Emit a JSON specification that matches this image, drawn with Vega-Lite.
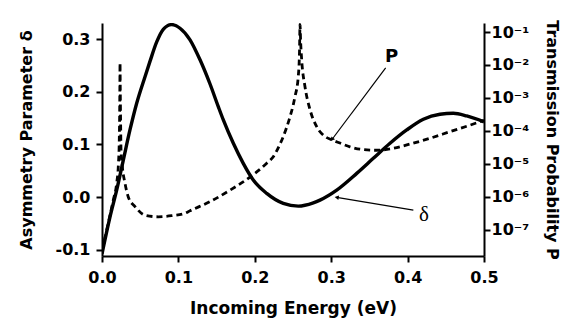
{
  "$schema": "https://vega.github.io/schema/vega-lite/v6.json",
  "width": 382,
  "height": 233,
  "autosize": "none",
  "padding": {"left": 102, "top": 23, "right": 90, "bottom": 69},
  "background": "white",
  "config": {
    "view": {"stroke": null},
    "axis": {
      "grid": false,
      "domainColor": "black", "domainWidth": 2,
      "tickColor": "black", "tickWidth": 2, "tickSize": 6,
      "labelFont": "DejaVu Sans", "labelFontWeight": "bold", "labelFontSize": 16, "labelColor": "black",
      "titleFont": "DejaVu Sans", "titleFontWeight": "bold", "titleFontSize": 16, "titleColor": "black",
      "labelOverlap": false, "labelFlush": false, "labelBound": false
    },
    "axisX": {"labelPadding": 7, "titlePadding": 15, "titleFontSize": 17},
    "axisLeft": {"labelPadding": 6, "titlePadding": 21},
    "axisRight": {"labelPadding": 1, "titlePadding": 15}
  },
  "datasets": {
    "delta": [
      {"energy": 0.0, "delta": -0.108},
      {"energy": 0.0105, "delta": -0.0375},
      {"energy": 0.0192, "delta": 0.0133},
      {"energy": 0.0279, "delta": 0.0705},
      {"energy": 0.0366, "delta": 0.1276},
      {"energy": 0.0454, "delta": 0.1785},
      {"energy": 0.0563, "delta": 0.229},
      {"energy": 0.0628, "delta": 0.258},
      {"energy": 0.0716, "delta": 0.295},
      {"energy": 0.0802, "delta": 0.319},
      {"energy": 0.0912, "delta": 0.328},
      {"energy": 0.1021, "delta": 0.321},
      {"energy": 0.1152, "delta": 0.299},
      {"energy": 0.1283, "delta": 0.261},
      {"energy": 0.1414, "delta": 0.215},
      {"energy": 0.1522, "delta": 0.172},
      {"energy": 0.1588, "delta": 0.1467},
      {"energy": 0.1719, "delta": 0.1023},
      {"energy": 0.1849, "delta": 0.0642},
      {"energy": 0.198, "delta": 0.0324},
      {"energy": 0.2156, "delta": 0.007},
      {"energy": 0.2373, "delta": -0.012},
      {"energy": 0.2569, "delta": -0.0171},
      {"energy": 0.2766, "delta": -0.0109},
      {"energy": 0.2853, "delta": -0.0057},
      {"energy": 0.3072, "delta": 0.0133},
      {"energy": 0.3334, "delta": 0.0451},
      {"energy": 0.3551, "delta": 0.0737},
      {"energy": 0.377, "delta": 0.1023},
      {"energy": 0.3988, "delta": 0.1276},
      {"energy": 0.4206, "delta": 0.148},
      {"energy": 0.4424, "delta": 0.1575},
      {"energy": 0.4598, "delta": 0.1594},
      {"energy": 0.4774, "delta": 0.1543},
      {"energy": 0.5, "delta": 0.143}
    ],
    "prob": [
      {"energy": 0.0, "P": 2.5e-8},
      {"energy": 0.0082, "P": 1.6e-7},
      {"energy": 0.0148, "P": 8.1e-7},
      {"energy": 0.0192, "P": 2.6e-6},
      {"energy": 0.0215, "P": 1.0e-5},
      {"energy": 0.0226, "P": 5.0e-5},
      {"energy": 0.0231, "P": 3.2e-4},
      {"energy": 0.0234, "P": 2.5e-3},
      {"energy": 0.0236, "P": 1.15e-2},
      {"energy": 0.0239, "P": 2.0e-3},
      {"energy": 0.0243, "P": 2.5e-4},
      {"energy": 0.0249, "P": 2.6e-5},
      {"energy": 0.0266, "P": 8.3e-6},
      {"energy": 0.0301, "P": 2.6e-6},
      {"energy": 0.0344, "P": 1.0e-6},
      {"energy": 0.0432, "P": 5.1e-7},
      {"energy": 0.0563, "P": 2.8e-7},
      {"energy": 0.0737, "P": 2.5e-7},
      {"energy": 0.0912, "P": 2.7e-7},
      {"energy": 0.1086, "P": 3.2e-7},
      {"energy": 0.1152, "P": 3.8e-7},
      {"energy": 0.1414, "P": 7.2e-7},
      {"energy": 0.1675, "P": 1.6e-6},
      {"energy": 0.1937, "P": 4.0e-6},
      {"energy": 0.2156, "P": 1.05e-5},
      {"energy": 0.2242, "P": 1.66e-5},
      {"energy": 0.233, "P": 4.0e-5},
      {"energy": 0.2373, "P": 6.8e-5},
      {"energy": 0.2461, "P": 2.7e-4},
      {"energy": 0.2504, "P": 6.3e-4},
      {"energy": 0.2526, "P": 1.1e-3},
      {"energy": 0.2569, "P": 4.5e-3},
      {"energy": 0.2585, "P": 2.5e-2},
      {"energy": 0.2592, "P": 0.17},
      {"energy": 0.26, "P": 0.05},
      {"energy": 0.2614, "P": 1.4e-2},
      {"energy": 0.2657, "P": 2.2e-3},
      {"energy": 0.2723, "P": 4.4e-4},
      {"energy": 0.281, "P": 1.35e-4},
      {"energy": 0.2919, "P": 6.8e-5},
      {"energy": 0.3007, "P": 5.4e-5},
      {"energy": 0.3115, "P": 4.3e-5},
      {"energy": 0.3246, "P": 3.3e-5},
      {"energy": 0.3377, "P": 2.8e-5},
      {"energy": 0.3596, "P": 2.6e-5},
      {"energy": 0.3813, "P": 3.0e-5},
      {"energy": 0.4031, "P": 4.0e-5},
      {"energy": 0.4293, "P": 6.0e-5},
      {"energy": 0.4555, "P": 9.5e-5},
      {"energy": 0.4817, "P": 1.5e-4},
      {"energy": 0.5, "P": 2.1e-4}
    ],
    "arrows": [
      {"energy": 0.3713, "delta": 0.2457, "energy2": 0.301, "delta2": 0.1095},
      {"energy": 0.4075, "delta": -0.0248, "energy2": 0.3072, "delta2": -0.0006}
    ],
    "tipP": [{"energy": 0.301, "delta": 0.1095}],
    "tipD": [{"energy": 0.3072, "delta": -0.0006}],
    "labelP": [{"energy": 0.3792, "delta": 0.2672, "label": "P"}],
    "labelD": [{"energy": 0.4215, "delta": -0.0343, "label": "δ"}]
  },
  "encoding": {
    "x": {
      "field": "energy", "type": "quantitative",
      "scale": {"domain": [0, 0.5], "nice": false, "zero": false},
      "axis": {"title": "Incoming Energy (eV)", "values": [0, 0.1, 0.2, 0.3, 0.4, 0.5], "format": ".1f"}
    }
  },
  "layer": [
    {
      "encoding": {
        "y": {
          "field": "delta", "type": "quantitative",
          "scale": {"domain": [-0.112, 0.331], "nice": false, "zero": false},
          "axis": {
            "orient": "left",
            "title": "Asymmetry Parameter δ",
            "values": [-0.1, 0, 0.1, 0.2, 0.3],
            "labelExpr": "replace(format(datum.value, '.1f'), '−', '-')"
          }
        }
      },
      "layer": [
        {
          "data": {"name": "delta"},
          "mark": {"type": "line", "color": "black", "strokeWidth": 3.4, "interpolate": "monotone", "clip": true}
        },
        {
          "data": {"name": "arrows"},
          "mark": {"type": "rule", "color": "black", "strokeWidth": 1.2},
          "encoding": {
            "x2": {"field": "energy2"},
            "y2": {"field": "delta2"}
          }
        },
        {
          "data": {"name": "tipP"},
          "mark": {"type": "point", "shape": "triangle-up", "filled": true, "color": "black", "size": 22, "angle": 217, "opacity": 1}
        },
        {
          "data": {"name": "tipD"},
          "mark": {"type": "point", "shape": "triangle-up", "filled": true, "color": "black", "size": 22, "angle": 279, "opacity": 1}
        },
        {
          "data": {"name": "labelP"},
          "mark": {"type": "text", "font": "DejaVu Sans", "fontWeight": "bold", "fontSize": 18, "color": "black", "align": "center", "baseline": "middle"},
          "encoding": {"text": {"field": "label"}}
        },
        {
          "data": {"name": "labelD"},
          "mark": {"type": "text", "font": "Liberation Serif", "fontSize": 21, "color": "black", "align": "center", "baseline": "middle"},
          "encoding": {"text": {"field": "label"}}
        }
      ]
    },
    {
      "data": {"name": "prob"},
      "mark": {"type": "line", "color": "black", "strokeWidth": 2.8, "strokeDash": [6, 4], "interpolate": "monotone", "clip": true},
      "encoding": {
        "y": {
          "field": "P", "type": "quantitative",
          "scale": {"type": "log", "domain": [1.62e-8, 0.1875], "nice": false},
          "axis": {
            "orient": "right",
            "title": "Transmission Probability P",
            "values": [0.1, 0.01, 0.001, 0.0001, 0.00001, 0.000001, 0.0000001],
            "labelExpr": "'10' + ['⁻¹','⁻²','⁻³','⁻⁴','⁻⁵','⁻⁶','⁻⁷'][round(-log(datum.value)/LN10) - 1]"
          }
        }
      }
    }
  ],
  "resolve": {"scale": {"y": "independent"}, "axis": {"y": "independent"}}
}
